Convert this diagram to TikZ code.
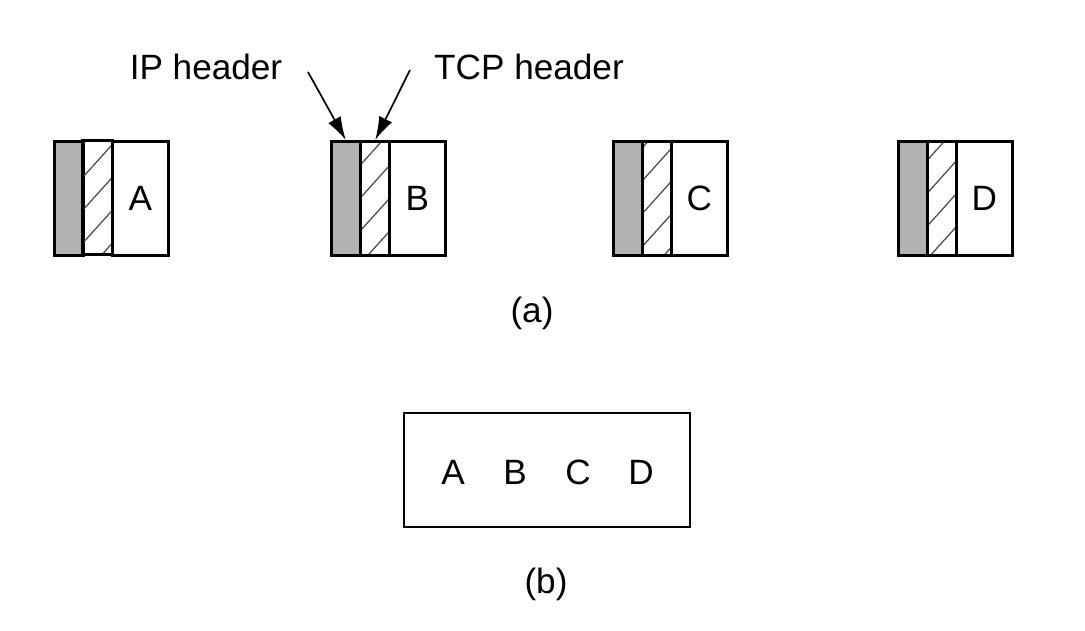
\documentclass[tikz,border=0pt]{standalone}
\usepackage{fontspec}
\setmainfont{Liberation Sans}
\usetikzlibrary{arrows.meta,patterns.meta}
\definecolor{ipgray}{RGB}{178,178,178}
\begin{document}
\begin{tikzpicture}[x=0.025cm,y=-0.025cm,
    part/.style={draw,line width=2pt,minimum height=2.85cm,inner sep=0pt,anchor=north west},
    ip/.style={part,fill=ipgray,minimum width=0.72cm},
    tcp/.style={part,minimum width=0.74cm,
      pattern={Lines[angle=48,distance=0.55cm,line width=0.9pt]},pattern color=black!70},
    data/.style={part,minimum width=1.4cm,font=\fontsize{25}{29}\selectfont},
    lbl/.style={font=\fontsize{25}{29}\selectfont},
    arr/.style={-{Latex[length=0.58cm,width=0.36cm]},line width=1.2pt}]
  \useasboundingbox (0,0) rectangle (1085,631);
  \foreach \l/\x in {A/53,B/330,C/612,D/897} {
    \node[ip] (ip\l) at (\x,140) {};
    \node[tcp] (tcp\l) at (\x+29,140) {};
    \node[data] (data\l) at (\x+58,140) {\l};
  }
  \node[lbl] (iplbl) at (206,67) {IP header};
  \node[lbl] (tcplbl) at (529,67) {TCP header};
  \coordinate (ipt) at (308,72);
  \coordinate (tcpt) at (410,70);
  \draw[arr] (ipt) -- (ipB.north);
  \draw[arr] (tcpt) -- (tcpB.north);
  \node[lbl] (capa) at (532,313) {(a)};
  \node[draw,line width=2pt,minimum width=7.15cm,minimum height=2.85cm] (seg) at (547,470) {};
  \foreach \l/\x in {A/453,B/515,C/578,D/641}
    \node[lbl] (seg\l) at (\x,472) {\l};
  \node[lbl] (capb) at (546,584) {(b)};
\end{tikzpicture}
\end{document}
